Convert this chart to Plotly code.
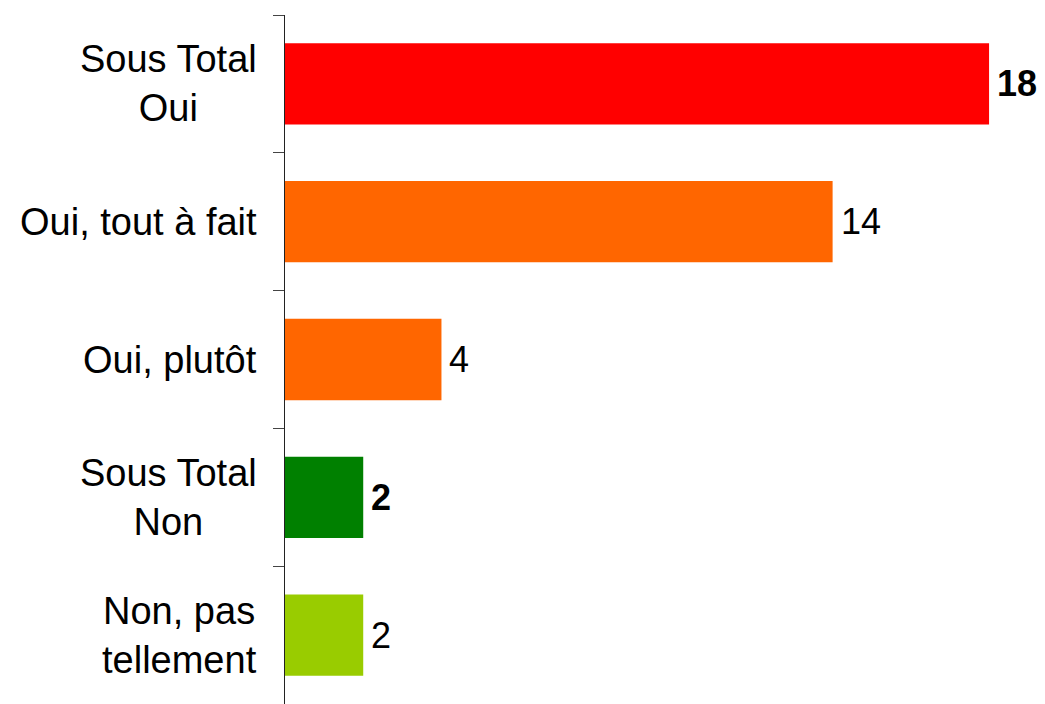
import plotly.graph_objects as go

categories = ["Sous Total<br>Oui", "Oui, tout à fait", "Oui, plutôt", "Sous Total<br>Non", "Non, pas<br>tellement"]
values = [18, 14, 4, 2, 2]
bold = [True, False, False, True, False]
colors = ["#FF0000", "#FF6600", "#FF6600", "#008000", "#99CC00"]

FONT = "Liberation Sans, Arial, sans-serif"

fig = go.Figure(
    go.Bar(
        x=values,
        y=categories,
        orientation="h",
        marker=dict(color=colors, line_width=0),
        hoverinfo="skip",
    )
)

for cat, val, b in zip(categories, values, bold):
    # value label just right of each bar
    fig.add_annotation(
        x=val,
        y=cat,
        text=f"<b>{val}</b>" if b else str(val),
        showarrow=False,
        xanchor="left",
        xshift=6,
        font=dict(size=36, color="black", family=FONT),
    )
    # category label: block right-aligned to the axis, lines centred
    fig.add_annotation(
        x=0,
        xref="paper",
        y=cat,
        text=cat,
        showarrow=False,
        xanchor="right",
        align="center",
        xshift=-26,
        font=dict(size=38, color="black", family=FONT),
    )

# page body adds an 8px margin, so the figure is a bit smaller than the window
fig.update_layout(
    width=1037,
    height=696,
    margin=dict(l=277, r=0, t=7, b=0),
    paper_bgcolor="white",
    plot_bgcolor="white",
    bargap=0.41,
    showlegend=False,
    font=dict(family=FONT, color="black"),
)
fig.update_xaxes(range=[0, 19.43], visible=False)
fig.update_yaxes(
    autorange="reversed",
    showline=True,
    linecolor="#222222",
    linewidth=1.2,
    ticks="outside",
    tickson="boundaries",
    ticklen=11,
    tickcolor="#444444",
    tickwidth=1.2,
    showticklabels=False,
    showgrid=False,
)

fig.write_html("out.html")
